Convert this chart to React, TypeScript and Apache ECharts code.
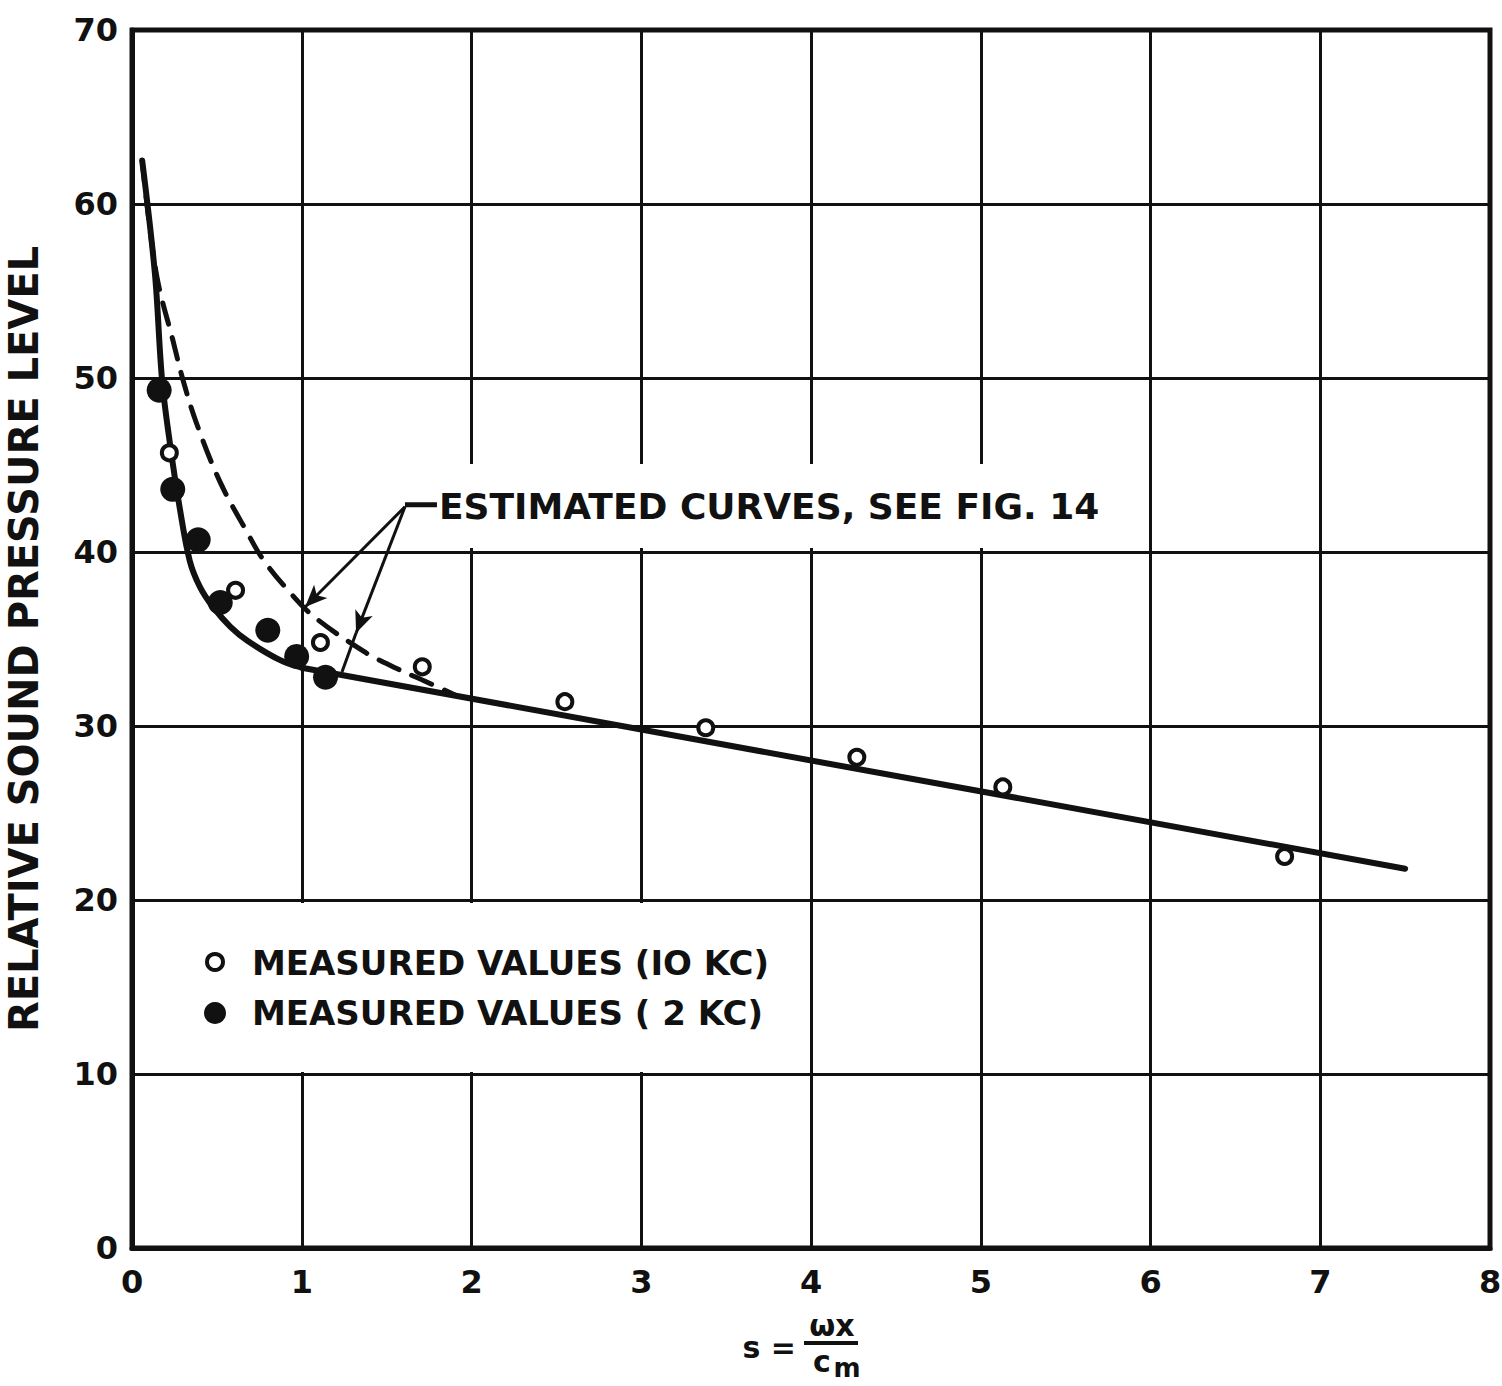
import React, { useEffect, useRef } from "react";
import * as echarts from "echarts";

const xTicks = [0, 1, 2, 3, 4, 5, 6, 7, 8];
const yTicks = [0, 10, 20, 30, 40, 50, 60, 70];

// measured values
const measured10kc: number[][] = [
  [0.22, 45.7], [0.61, 37.8], [1.11, 34.8], [1.71, 33.4], [2.55, 31.4],
  [3.38, 29.9], [4.27, 28.2], [5.13, 26.5], [6.79, 22.5],
];
const measured2kc: number[][] = [
  [0.16, 49.3], [0.24, 43.6], [0.39, 40.7], [0.52, 37.1], [0.8, 35.5],
  [0.97, 34.0], [1.14, 32.8],
];

// fitted solid curve: steep part and bend
const solidCurve: number[][] = [
  [0.06, 62.5], [0.135, 56.0], [0.177, 49.9], [0.224, 46.2], [0.28, 42.6],
  [0.34, 39.5], [0.4, 38.0], [0.48, 36.8], [0.58, 35.7], [0.68, 34.9],
  [0.87, 33.8], [1.0, 33.35],
];
// fitted solid curve: straight part
const solidLine: number[][] = [[1.0, 33.35], [7.5, 21.8]];

// estimated (dashed) curve
const dashedCurve: number[][] = [
  [0.06, 62.5], [0.1, 59.0], [0.153, 55.5], [0.24, 52.2], [0.3, 49.9],
  [0.38, 47.4], [0.52, 44.0], [0.68, 41.1], [0.77, 39.6], [0.91, 37.9],
  [1.07, 36.3], [1.38, 34.2], [1.56, 33.3], [1.72, 32.6], [1.9, 31.8],
];

const annotationText = "ESTIMATED CURVES, SEE FIG. 14";
const annotationAnchor = [1.608, 42.6];
const arrowTip1 = [1.02, 36.84];
const arrowTip2 = [1.32, 35.34];
const arrowEnd2 = [1.237, 33.1];

const legendItems = ["MEASURED VALUES (IO KC)", "MEASURED VALUES ( 2 KC)"];
const yAxisName = "RELATIVE SOUND PRESSURE LEVEL";

const FONT = "'DejaVu Sans', sans-serif";

export default function App() {
  const ref = useRef<HTMLDivElement>(null);
  useEffect(() => {
    document.body.style.margin = "0";
    const chart = echarts.init(ref.current!, null, { renderer: "svg" });
    const black = "#111";
    chart.setOption({
      animation: false,
      backgroundColor: "#fff",
      grid: {
        left: 132, right: 12, top: 30, bottom: 138,
        show: true, borderColor: black, borderWidth: 5,
        outerBoundsMode: "none", containLabel: false,
      },
      xAxis: {
        type: "value", min: 0, max: 8, interval: 1,
        axisLine: { lineStyle: { color: black, width: 5 } },
        axisTick: { show: false },
        axisLabel: {
          color: black, fontSize: 32, fontWeight: "bold", fontFamily: FONT, margin: 18,
          formatter: (v: number) => (xTicks.includes(v) ? String(v) : ""),
        },
        splitLine: { show: true, lineStyle: { color: black, width: 3 } },
      },
      yAxis: {
        type: "value", min: 0, max: 70, interval: 10,
        name: yAxisName, nameLocation: "middle", nameGap: 88,
        nameTextStyle: { color: black, fontSize: 40, fontWeight: "bold", fontFamily: FONT },
        axisLine: { show: true, lineStyle: { color: black, width: 5 } },
        axisTick: { show: false },
        axisLabel: {
          color: black, fontSize: 32, fontWeight: "bold", fontFamily: FONT, margin: 14,
          formatter: (v: number) => (yTicks.includes(v) ? String(v) : ""),
        },
        splitLine: { show: true, lineStyle: { color: black, width: 3 } },
      },
      series: [
        {
          type: "line", data: dashedCurve, smooth: 0.35,
          showSymbol: false, lineStyle: { color: black, width: 5, type: [22, 14], cap: "round" }, z: 3,
        },
        {
          type: "line", data: solidCurve, smooth: 0.35,
          showSymbol: false, lineStyle: { color: black, width: 6, cap: "round" }, z: 4,
          markLine: {
            silent: true, symbol: ["none", "arrow"], symbolSize: [14, 22],
            label: { show: false },
            lineStyle: { color: black, width: 3, type: "solid", opacity: 1 },
            data: [
              [{ coord: annotationAnchor }, { coord: arrowTip1 }],
              [{ coord: annotationAnchor }, { coord: arrowTip2 }],
              [{ coord: arrowTip2, symbol: "none" }, { coord: arrowEnd2, symbol: "none" }],
            ],
          },
        },
        {
          type: "line", data: solidLine, smooth: false,
          showSymbol: false, lineStyle: { color: black, width: 6, cap: "round" }, z: 4,
        },
        {
          type: "scatter", data: measured2kc, symbol: "circle", symbolSize: 25,
          itemStyle: { color: black, opacity: 1 }, z: 5,
        },
        {
          type: "scatter", data: measured10kc, symbol: "circle", symbolSize: 15,
          itemStyle: { color: "#fff", borderColor: black, borderWidth: 4, opacity: 1 }, z: 6,
        },
      ],
    });

    const p = chart.convertToPixel({ gridIndex: 0 }, annotationAnchor) as number[];
    chart.setOption({
      graphic: [
        // white boxes behind the annotation and the key
        { type: "rect", z: 1, shape: { x: 420, y: 464, width: 718, height: 84 }, style: { fill: "#fff" } },
        { type: "rect", z: 1, shape: { x: 136, y: 903, width: 664, height: 169 }, style: { fill: "#fff" } },
        { type: "line", z: 5, shape: { x1: p[0], y1: p[1] - 2, x2: p[0] + 32, y2: p[1] - 2 }, style: { stroke: black, lineWidth: 5 } },
        {
          type: "text", z: 5, x: p[0] + 34, y: p[1],
          style: { text: annotationText, fill: black, font: `bold 36px ${FONT}`, textVerticalAlign: "middle" },
        },
        { type: "circle", z: 5, shape: { cx: 215, cy: 962, r: 8 }, style: { fill: "#fff", stroke: black, lineWidth: 4 } },
        { type: "circle", z: 5, shape: { cx: 215, cy: 1013, r: 11 }, style: { fill: black } },
        {
          type: "text", z: 5, x: 252, y: 963,
          style: { text: legendItems[0], fill: black, font: `bold 34px ${FONT}`, textVerticalAlign: "middle" },
        },
        {
          type: "text", z: 5, x: 252, y: 1013,
          style: { text: legendItems[1], fill: black, font: `bold 34px ${FONT}`, textVerticalAlign: "middle" },
        },
        {
          type: "text", x: 796, y: 1347,
          style: { text: "s =", fill: black, font: `bold 30px ${FONT}`, textAlign: "right", textVerticalAlign: "middle" },
        },
        {
          type: "text", x: 832, y: 1325,
          style: { text: "ωx", fill: black, font: `bold 30px ${FONT}`, textAlign: "center", textVerticalAlign: "middle" },
        },
        { type: "line", shape: { x1: 804, y1: 1343, x2: 858, y2: 1343 }, style: { stroke: black, lineWidth: 4 } },
        {
          type: "text", x: 822, y: 1361,
          style: { text: "c", fill: black, font: `bold 30px ${FONT}`, textAlign: "center", textVerticalAlign: "middle" },
        },
        {
          type: "text", x: 847, y: 1368,
          style: { text: "m", fill: black, font: `bold 26px ${FONT}`, textAlign: "center", textVerticalAlign: "middle" },
        },
      ],
    });
    return () => chart.dispose();
  }, []);
  return <div ref={ref} style={{ width: 1502, height: 1386 }} />;
}
